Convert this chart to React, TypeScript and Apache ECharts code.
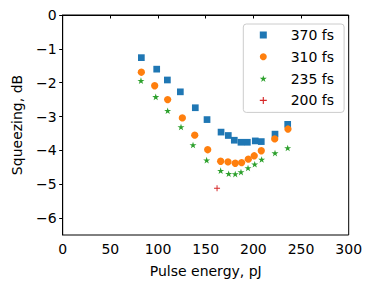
import React, { useEffect, useRef } from "react";
import * as echarts from "echarts";

const energy370 = [82.5, 98.6, 109.8, 123.4, 139.1, 151.4, 166.1, 173.7, 180.0, 187.0, 193.7, 202.0, 208.3, 222.7, 236.0];
const sq370 = [-1.26, -1.60, -1.92, -2.27, -2.74, -3.09, -3.46, -3.56, -3.70, -3.76, -3.76, -3.72, -3.74, -3.52, -3.23];
const energy310 = [82.5, 96.5, 110.1, 125.5, 138.5, 152.1, 165.7, 173.4, 181.0, 187.7, 194.7, 200.9, 208.3, 222.4, 236.3];
const sq310 = [-1.69, -2.09, -2.50, -3.04, -3.55, -3.98, -4.32, -4.34, -4.38, -4.36, -4.26, -4.16, -4.01, -3.66, -3.37];
const energy235 = [82.1, 97.6, 110.1, 124.1, 136.7, 151.0, 165.7, 174.1, 181.0, 187.0, 194.4, 201.4, 208.7, 222.7, 236.0];
const sq235 = [-1.94, -2.42, -2.83, -3.31, -3.84, -4.29, -4.60, -4.69, -4.70, -4.64, -4.52, -4.41, -4.27, -4.08, -3.93];
const energy200 = [161.9];
const sq200 = [-5.12];

const seriesNames = ["370 fs", "310 fs", "235 fs", "200 fs"];
const colors = ["#1f77b4", "#ff7f0e", "#2ca02c", "#d62728"];
const xTicks = [0, 50, 100, 150, 200, 250, 300];
const yTicks = [0, -1, -2, -3, -4, -5, -6];

const STAR = "path://M10,0L12.245,6.91L19.51,6.91L13.63,11.18L15.88,18.09L10,13.82L4.12,18.09L6.37,11.18L0.49,6.91L7.755,6.91Z";
const PLUS = "path://M4.2,0H5.8V4.2H10V5.8H5.8V10H4.2V5.8H0V4.2H4.2Z";

const zip = (xs: number[], ys: number[]) => xs.map((x, i) => [x, ys[i]]);

const FONT = "DejaVu Sans";
const FS = 14;

export default function App() {
  const ref = useRef<HTMLDivElement>(null);
  useEffect(() => {
    if (!ref.current) return;
    const chart = echarts.init(ref.current, null, { renderer: "svg" });
    const fmt = (v: number) => (v < 0 ? "\u2212" + Math.abs(v) : String(v));
    chart.setOption({
      animation: false,
      backgroundColor: "#ffffff",
      textStyle: { fontFamily: FONT },
      grid: {
        left: 62.7,
        right: 24.3,
        top: 15,
        bottom: 56,
        show: true,
        borderColor: "#000",
        borderWidth: 1,
        backgroundColor: "transparent",
      },
      legend: {
        data: seriesNames.map((n) => ({ name: n })),
        orient: "vertical",
        left: 243.3,
        top: 24,
        itemWidth: 7,
        itemHeight: 7,
        itemGap: 5.8,
        padding: [3, 10, 4, 16.5],
        backgroundColor: "rgba(255,255,255,0.8)",
        borderColor: "#cccccc",
        borderWidth: 1,
        borderRadius: 3,
        itemStyle: { opacity: 1 },
        textStyle: { fontFamily: FONT, fontSize: FS, color: "#000", lineHeight: 16, padding: [0, 0, 0, 18.9] },
      },
      xAxis: {
        type: "value",
        min: 0,
        max: 300,
        interval: 50,
        name: "Pulse energy, pJ",
        nameLocation: "middle",
        nameGap: 29,
        nameTextStyle: { fontFamily: FONT, fontSize: FS, color: "#000" },
        axisLine: { show: true, lineStyle: { color: "#000", width: 1 } },
        axisTick: { show: true, length: 3.5, lineStyle: { color: "#000", width: 1 }, customValues: xTicks },
        axisLabel: { fontFamily: FONT, fontSize: FS, color: "#000", margin: 7, customValues: xTicks },
        splitLine: { show: false },
      },
      yAxis: {
        type: "value",
        min: -6.5,
        max: 0,
        splitNumber: 7,
        name: "Squeezing, dB",
        nameLocation: "middle",
        nameGap: 39,
        nameTextStyle: { fontFamily: FONT, fontSize: FS, color: "#000" },
        axisLine: { show: true, lineStyle: { color: "#000", width: 1 } },
        axisTick: { show: true, length: 3.5, lineStyle: { color: "#000", width: 1 }, customValues: yTicks },
        axisLabel: { fontFamily: FONT, fontSize: FS, color: "#000", margin: 6, customValues: yTicks, formatter: fmt },
        splitLine: { show: false },
      },
      series: [
        { name: seriesNames[0], type: "scatter", data: zip(energy370, sq370), symbol: "rect", symbolSize: 6.7, itemStyle: { color: colors[0], opacity: 1 } },
        { name: seriesNames[1], type: "scatter", data: zip(energy310, sq310), symbol: "circle", symbolSize: 7.3, itemStyle: { color: colors[1], opacity: 1 } },
        { name: seriesNames[2], type: "scatter", data: zip(energy235, sq235), symbol: STAR, symbolKeepAspect: true, symbolSize: 7, itemStyle: { color: colors[2], opacity: 1 } },
        { name: seriesNames[3], type: "scatter", data: zip(energy200, sq200), symbol: PLUS, symbolSize: 6, itemStyle: { color: colors[3], opacity: 1 } },
      ],
    });
    return () => chart.dispose();
  }, []);
  return <div ref={ref} style={{ width: 373, height: 291, position: "absolute", left: 0, top: 0 }} />;
}
